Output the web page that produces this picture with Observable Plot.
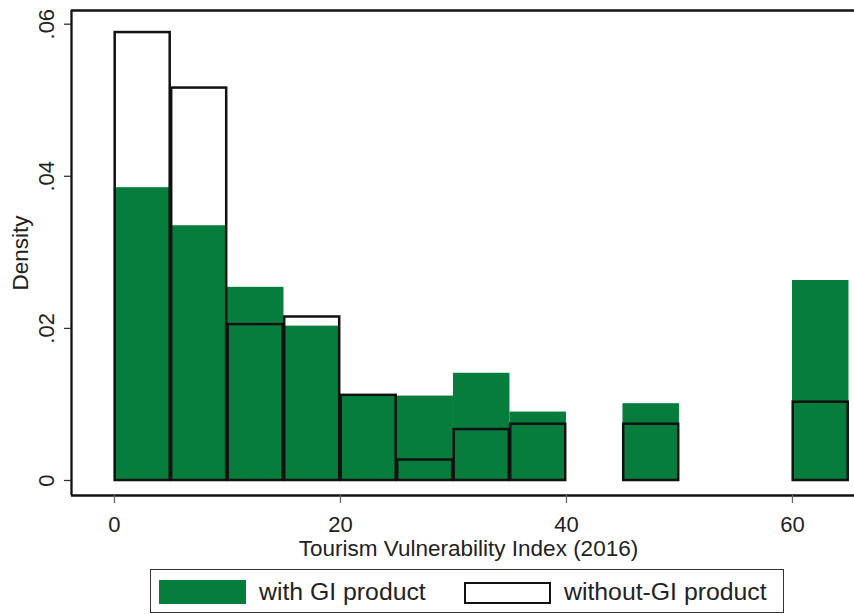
<!DOCTYPE html>
<html>
<head>
<meta charset="utf-8">
<script src="https://cdn.jsdelivr.net/npm/d3@7"></script>
<script src="https://cdn.jsdelivr.net/npm/@observablehq/plot@0.6"></script>
<style>
  html, body { margin: 0; padding: 0; background: white; }
  #wrap { position: relative; width: 854px; height: 614px; overflow: hidden; background: white;
          font-family: "Liberation Sans", Arial, sans-serif; color: #222; }
  #chart { position: absolute; left: 0; top: 0; }
  .legend { position: absolute; left: 150px; top: 569px; width: 634px; height: 44px;
            border: 1.5px solid #333; box-sizing: border-box; }
  .sw { position: absolute; box-sizing: border-box; }
  .lt { position: absolute; font-size: 24.8px; line-height: 24px; white-space: nowrap; color: #222; }
</style>
</head>
<body>
<div id="wrap">
  <div id="chart"></div>
  <div class="legend" id="legend"></div>
</div>
<script>
// ---- data ----
const binStarts = [0, 5, 10, 15, 20, 25, 30, 35, 40, 45, 50, 55, 60];
const binWidth = 5;
const withGI    = [0.0385, 0.0335, 0.0254, 0.0203, 0.0112, 0.0111, 0.0141, 0.0090, 0, 0.0101, 0, 0, 0.0263];
const withoutGI = [0.0589, 0.0516, 0.0205, 0.0215, 0.0112, 0.0027, 0.0067, 0.0074, 0, 0.0074, 0, 0, 0.0103];
const xTicks = [0, 20, 40, 60];
const yTicks = [0, 0.02, 0.04, 0.06];
const yTickLabels = ["0", ".02", ".04", ".06"];
const xTitle = "Tourism Vulnerability Index (2016)";
const yTitle = "Density";
const seriesNames = ["with GI product", "without-GI product"];

// ---- styling ----
const green = "#067d3d";
const ink = "#222";
const xDomain = [-3.8, 65.49];
const yDomain = [-0.00197, 0.0618];

const bins = binStarts.map((x0, i) => ({x1: x0, x2: x0 + binWidth, withv: withGI[i], withoutv: withoutGI[i]}));
const yTickTable = yTicks.map((v, i) => ({v, label: yTickLabels[i]}));

const chart = Plot.plot({
  width: 854,
  height: 566,
  marginLeft: 71,
  marginRight: 0,
  marginTop: 10,
  marginBottom: 71,
  style: {fontFamily: '"Liberation Sans", Arial, sans-serif', fontSize: "22px", color: ink, background: "white"},
  x: {domain: xDomain},
  y: {domain: yDomain},
  marks: [
    Plot.rect(bins.filter(d => d.withv > 0), {
      x1: "x1", x2: "x2", y1: () => 0, y2: "withv", fill: green, inset: 0
    }),
    Plot.rect(bins.filter(d => d.withoutv > 0), {
      x1: "x1", x2: "x2", y1: () => 0, y2: "withoutv", fill: "none",
      stroke: "#111", strokeWidth: 2.5, insetLeft: 0.75, insetRight: 0.75, insetTop: 0, insetBottom: 0
    }),
    // frame (left, top, bottom; right side cut off)
    Plot.ruleY(yDomain, {stroke: "#111", strokeWidth: 2.3}),
    Plot.ruleX([xDomain[0]], {stroke: "#111", strokeWidth: 2.3}),
    // ticks
    Plot.axisX({ticks: xTicks, tickSize: 8, tickFormat: () => "", label: null, stroke: "#666", strokeWidth: 1.3}),
    Plot.axisY({ticks: yTicks, tickSize: 7, tickFormat: () => "", label: null, stroke: "#333", strokeWidth: 1.3}),
    // tick labels
    Plot.text(xTicks, {x: d => d, text: d => String(d), frameAnchor: "bottom", lineAnchor: "bottom",
      dy: 36, fontSize: 22, fill: ink}),
    Plot.text(yTickTable, {y: "v", text: "label", frameAnchor: "left", dx: -18, rotate: -90,
      textAnchor: "middle", lineAnchor: "bottom", fontSize: 22, fill: ink}),
    // axis titles
    Plot.text([xTitle], {text: d => d, frameAnchor: "bottom", lineAnchor: "bottom", dx: 5.5, dy: 60,
      fontSize: 22.5, fill: ink}),
    Plot.text([yTitle], {text: d => d, frameAnchor: "left", rotate: -90, textAnchor: "middle",
      lineAnchor: "bottom", dx: -44, fontSize: 22.5, fill: ink})
  ]
});
document.getElementById("chart").appendChild(chart);

// ---- legend ----
const legend = document.getElementById("legend");
const items = [
  {name: seriesNames[0], swatch: {left: 8, top: 10, w: 87, h: 24, bg: green, border: "none"}, textLeft: 108},
  {name: seriesNames[1], swatch: {left: 313, top: 11.5, w: 87, h: 22, bg: "white", border: "2px solid #111"}, textLeft: 413}
];
items.forEach(it => {
  const s = document.createElement("div");
  s.className = "sw";
  Object.assign(s.style, {left: it.swatch.left + "px", top: it.swatch.top + "px", width: it.swatch.w + "px",
    height: it.swatch.h + "px", background: it.swatch.bg, border: it.swatch.border});
  legend.appendChild(s);
  const t = document.createElement("div");
  t.className = "lt";
  t.textContent = it.name;
  Object.assign(t.style, {left: it.textLeft + "px", top: "10px"});
  legend.appendChild(t);
});
</script>
</body>
</html>
